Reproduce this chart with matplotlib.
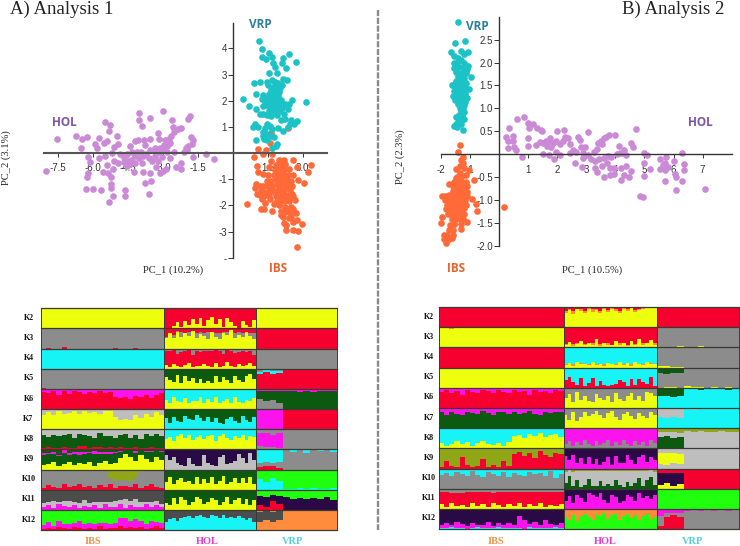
import numpy as np
import matplotlib
matplotlib.use("Agg")
import matplotlib.pyplot as plt
from matplotlib.lines import Line2D

W, H = 740, 546

# ---------- PCA values ----------
HOL_A = [(-7.54,.52),(-8.0,-.69),(-6.73,.66),(-6.47,.52),(-6.26,.6),(-6.49,.18),(-5.9,.34),(-5.8,.2),(-5.73,.59),(-5.49,1.17),
(-5.26,1.07),(-5.29,.83),(-5.51,.39),(-5.37,.46),(-4.94,.66),(-4.9,.33),(-5.09,.24),(-6.2,-.14),(-6.11,-.36),(-6.19,-.75),
(-6.23,-.9),(-6.27,-1.38),(-6.0,-1.38),(-5.66,-1.4),(-5.46,-.11),(-5.19,-.01),(-4.85,-.05),(-5.4,-.45),(-5.1,-.3),(-4.9,-.4),
(-5.55,-.72),(-5.35,-.75),(-5.15,-.62),(-5.2,-.9),(-5.2,-1.2),(-5.2,-1.35),(-5.14,-1.63),(-5.31,-1.88),(-4.62,-1.63),(-4.6,-1.4),
(-4.65,-.35),(-4.5,-.3),(-4.35,-.25),(-4.2,-.12),(-4.55,-.5),(-4.4,-.42),(-4.2,-.4),(-4.25,-.72),(-3.85,-.72),(-3.55,-.78),
(-3.75,-1.15),(-3.5,-1.05),(-3.6,-1.55),(-4.0,-.2),(-3.85,-.1),(-3.7,-.05),(-3.6,-.2),(-3.45,-.3),(-3.3,-.55),(-3.1,-.75),
(-3.0,-.7),(-2.85,-.6),(-3.2,-.3),(-3.05,-.15),(-3.15,.05),(-3.0,.1),(-2.8,.05),(-2.5,.02),(-2.1,.05),(-1.95,.1),
(-2.2,-.4),(-2.2,-.6),(-2.42,-.55),(-1.7,-.15),(-1.15,-.05),(-.8,-.23),(-4.2,.47),(-4.05,.5),(-3.8,.48),(-3.75,.3),
(-3.55,.55),(-3.35,.2),(-3.1,.2),(-2.95,.3),(-2.8,.28),(-2.7,.4),(-2.9,.48),(-2.75,.55),(-2.65,.65),(-3.15,.55),
(-3.2,.75),(-2.5,.8),(-2.35,.9),(-2.2,.95),(-2.55,1.0),(-2.6,1.25),(-1.9,1.3),(-1.85,1.4),(-1.8,.62),(-1.7,.5),
(-1.75,.35),(-1.9,.28),(-2.0,.18),(-4.0,1.52),(-4.0,1.25),(-3.9,1.02),(-3.55,1.32),(-2.98,1.6),(-4.4,.25),(-4.55,-.05),
(-4.65,-.15),(-4.3,.02),(-4.1,.02),(-3.95,.05),(-3.55,.1),(-3.3,.03),(-5.75,-.2),(-3.35,-.1),(-3.9,-.4),(-2.7,-.2)]

VRP_A = [(1.11,4.28),(1.26,3.97),(1.57,3.81),(2.41,3.78),(1.24,3.66),(1.41,3.59),(1.67,3.66),(2.14,3.62),(2.71,3.49),(1.74,3.45),
(2.10,3.43),(1.81,3.30),(2.29,3.24),(1.54,3.04),(1.89,3.04),(2.14,2.84),(2.34,2.78),(1.17,2.73),(.91,2.66),(1.46,2.73),
(1.67,2.80),(1.81,2.73),(1.96,2.66),(2.10,2.60),(1.53,2.60),(1.74,2.54),(1.89,2.51),(2.03,2.48),(1.66,2.40),(1.80,2.38),
(2.00,2.32),(1.00,2.24),(1.30,2.20),(1.55,2.25),(1.75,2.22),(1.95,2.18),(1.27,2.07),(1.47,2.05),(1.62,2.10),(1.85,2.05),
(2.05,2.02),(.44,2.06),(2.52,2.04),(3.14,1.96),(1.40,1.92),(1.60,1.90),(1.80,1.92),(2.00,1.90),(2.25,1.88),(.7,1.78),
(.98,1.70),(1.3,1.8),(1.5,1.78),(1.72,1.8),(1.92,1.74),(2.12,1.72),(2.42,1.86),(2.35,1.70),(1.55,1.6),(1.78,1.62),
(2.0,1.6),(1.3,1.5),(1.15,1.48),(1.45,1.45),(1.62,1.42),(1.9,1.45),(2.2,1.48),(2.5,1.25),(2.75,1.22),(2.22,1.3),
(2.45,1.1),(2.62,1.12),(2.05,1.25),(.95,1.12),(1.1,1.0),(.88,.98),(1.45,1.1),(1.6,1.05),(1.38,.95),(1.3,.82),
(1.45,.72),(1.7,.9),(1.95,.95),(2.15,.85),(2.35,1.0),(.98,.48),(1.33,.55),(1.48,.5),(1.65,.65),(1.75,.6),
(1.3,.65),(1.9,.35),(1.85,.28),(1.68,.2)]

IBS_A = [(1.64,.78),(2.36,.97),(1.6,.37),(1.1,.14),(1.43,.11),(.89,-.14),(1.3,-.05),(1.7,-.04),(1.03,-.48),(1.1,-.72),
(3.34,-.46),(3.21,-.71),(2.6,-.27),(2.74,-.52),(3.06,-1.15),(2.81,-1.03),(.61,-1.95),(2.74,-3.59),(2.27,-2.94),(2.6,-2.94),
(2.81,-2.97),(2.96,-2.73),(2.6,-2.65),(2.2,-2.68),(2.15,-2.45),(2.4,-2.5),(2.75,-2.55),(2.7,-2.3),(2.45,-2.3),(2.25,-2.25),
(2.05,-2.2),(2.0,-2.0),(2.25,-2.05),(2.5,-2.05),(2.6,-2.15),(2.65,-1.8),(2.4,-1.85),(2.2,-1.85),(1.9,-1.85),(1.7,-2.2),
(1.35,-2.15),(1.2,-2.15),(1.4,-1.9),(1.6,-1.75),(1.85,-1.65),(2.1,-1.65),(2.35,-1.6),(1.25,-1.75),(1.05,-1.55),(.95,-1.35),
(.98,-1.18),(1.2,-1.45),(1.4,-1.5),(1.6,-1.45),(1.8,-1.45),(2.0,-1.45),(2.2,-1.4),(2.45,-1.4),(1.3,-1.25),(1.15,-1.25),
(1.5,-1.25),(1.7,-1.25),(1.9,-1.2),(2.1,-1.2),(2.3,-1.2),(2.55,-1.25),(1.45,-1.05),(1.65,-1.05),(1.85,-1.0),(2.05,-1.0),
(2.25,-1.0),(2.5,-1.05),(1.75,-.85),(1.95,-.8),(2.15,-.8),(2.35,-.85),(2.6,-.85),(1.5,-.85),(1.3,-.8),(1.8,-.65),
(2.0,-.62),(2.2,-.62),(2.4,-.62),(1.85,-.45),(2.05,-.42),(2.25,-.42),(2.0,-.25),(2.2,-.28),(1.65,-.3),(1.55,-.55),
(2.1,-1.1),(2.3,-1.3),(2.0,-1.3),(1.85,-1.55),(2.15,-1.55),(2.4,-1.7),(2.25,-1.75),(2.05,-1.75),(2.3,-.95),(2.1,-.9),
(1.95,-1.1),(1.6,-1.4),(2.15,-.7),(2.45,-1.15),(2.55,-1.55),(1.55,-1.6),(1.35,-1.65),(1.15,-1.6),(2.0,-1.95),(2.35,-2.15),
(2.5,-2.45),(2.3,-2.75),(2.05,-2.35),(1.75,-1.95),(1.9,-.75),(2.6,-1.65)]

HOL_B = [(.33,.57),(.63,.78),(.84,.81),(.24,.37),(.47,.4),(.29,.28),(.49,.3),(.31,.14),(.52,.16),(.58,.09),
(.79,-.05),(1.0,.68),(1.18,.66),(1.02,.57),(1.29,.57),(1.43,.53),(1.47,.5),(1.0,.35),(1.0,.18),(1.27,.2),
(1.4,.26),(1.5,.25),(1.6,.28),(1.68,.3),(1.75,.35),(1.85,.25),(1.95,.3),(2.1,.22),(2.18,.3),(2.25,.38),
(2.37,.36),(2.0,.5),(2.23,.52),(2.7,.38),(2.78,.32),(3.05,.49),(1.5,.0),(1.7,-.02),(1.8,.15),(1.65,.18),
(1.95,.05),(2.1,-.02),(1.9,-.1),(2.45,.22),(2.55,.1),(2.45,.02),(2.65,.06),(2.8,.15),(2.95,.15),(2.9,.02),
(3.05,-.02),(3.25,.05),(3.35,.12),(3.5,.28),(3.6,.36),(3.78,.43),(3.68,.38),(4.0,.43),(3.4,.25),(3.55,.22),
(2.6,-.2),(2.85,-.27),(2.9,-.08),(3.15,-.1),(3.3,-.15),(3.45,-.1),(3.6,-.08),(3.75,-.03),(3.85,-.05),(3.3,-.3),
(3.35,-.38),(3.55,-.25),(3.7,-.2),(3.8,-.3),(3.95,-.3),(3.62,-.5),(3.8,-.45),(3.95,-.42),(4.05,.0),(4.15,.02),
(4.25,.02),(4.35,-.02),(4.12,.17),(4.3,.1),(4.55,.25),(4.6,.15),(4.72,.55),(4.2,-.3),(4.35,-.25),(4.55,-.37),
(4.3,-.45),(4.45,-.5),(4.2,-.55),(5.0,.02),(5.1,-.02),(5.0,-.2),(5.0,-.47),(5.2,-.33),(5.55,-.1),(5.65,-.23),
(5.7,-.35),(5.55,-.33),(5.75,-.05),(5.72,-.2),(5.8,-.28),(6.0,-.15),(6.05,-.43),(6.1,-.5),(6.3,-.58),(6.1,-.78),
(6.3,.03),(6.35,-.22),(6.35,-.34),(5.7,-.58),(4.85,-.92),(4.95,-.93),(7.08,-.75)]

VRP_B = [(-1.42,2.88),(-1.53,2.43),(-1.17,2.46),(-1.65,2.22),(-1.08,2.24),(-1.55,2.15),(-1.3,2.25),(-1.2,2.18),(-1.42,2.1),(-1.32,2.05),
(-1.55,2.0),(-1.45,1.98),(-1.2,2.0),(-1.08,1.92),(-1.55,1.88),(-1.38,1.9),(-1.22,1.88),(-1.1,1.85),(-1.48,1.8),(-1.3,1.78),
(-1.15,1.78),(-.97,1.68),(-1.42,1.7),(-1.3,1.68),(-1.2,1.66),(-1.5,1.6),(-1.38,1.6),(-1.25,1.58),(-1.15,1.55),(-1.58,1.52),
(-1.47,1.52),(-1.35,1.5),(-1.22,1.48),(-1.62,1.5),(-1.5,1.42),(-1.38,1.42),(-1.25,1.4),(-1.03,1.42),(-1.12,1.42),(-1.55,1.38),
(-1.42,1.33),(-1.3,1.33),(-1.18,1.32),(-1.58,1.28),(-1.47,1.25),(-1.35,1.25),(-1.22,1.25),(-1.12,1.22),(-1.52,1.18),(-1.4,1.18),
(-1.28,1.18),(-1.18,1.15),(-1.42,1.1),(-1.3,1.1),(-1.2,1.08),(-1.35,1.02),(-1.25,1.0),(-1.32,.95),(-1.22,.92),(-1.38,.85),
(-1.28,.85),(-1.47,.82),(-1.35,.8),(-1.2,.78),(-1.3,.72),(-1.42,.7),(-1.36,.68),(-1.5,.65),(-1.57,.62),(-1.45,.6),
(-1.26,.54),(-1.3,.65)]

IBS_B = [(-1.33,.2),(-1.43,.06),(-1.23,-.05),(-1.03,-.35),(-.87,-.57),(.16,-1.16),(-.77,-1.24),(-.79,-1.08),(-.92,-.97),(-1.82,-1.94),
(-1.97,-1.36),(-1.98,-.92),(-1.11,-1.48),(-1.32,-1.63),(-1.63,-1.83),(-1.3,-.12),(-1.35,-.25),(-1.22,-.3),(-1.5,-.33),(-1.35,-.4),
(-1.45,-.5),(-1.3,-.5),(-1.15,-.45),(-1.55,-.6),(-1.42,-.6),(-1.28,-.6),(-1.15,-.6),(-1.72,-.65),(-1.6,-.7),(-1.48,-.7),
(-1.35,-.7),(-1.22,-.7),(-1.1,-.7),(-1.6,-.8),(-1.47,-.8),(-1.33,-.8),(-1.2,-.8),(-1.1,-.82),(-1.85,-.9),(-1.72,-.88),
(-1.6,-.9),(-1.47,-.9),(-1.35,-.9),(-1.22,-.9),(-1.1,-.92),(-1.85,-1.0),(-1.7,-1.0),(-1.55,-1.0),(-1.42,-1.0),(-1.3,-1.0),
(-1.18,-1.0),(-1.78,-1.1),(-1.62,-1.1),(-1.5,-1.1),(-1.38,-1.1),(-1.25,-1.1),(-1.14,-1.1),(-1.82,-1.2),(-1.65,-1.2),(-1.52,-1.2),
(-1.4,-1.2),(-1.28,-1.2),(-1.75,-1.3),(-1.6,-1.3),(-1.47,-1.3),(-1.35,-1.3),(-1.22,-1.3),(-1.62,-1.42),(-1.48,-1.42),(-1.35,-1.42),
(-1.25,-1.42),(-2.0,-1.5),(-1.68,-1.55),(-1.55,-1.52),(-1.72,-1.65),(-1.58,-1.65),(-1.9,-1.75),(-1.78,-1.75),(-1.6,-1.75),(-1.88,-1.85),
(-1.72,-1.85),(-1.55,-1.52),(-1.25,-.2),(-1.38,-.95),(-1.5,-.52),(-1.25,-.82),(-1.65,-1.12),(-1.42,-1.12),(-1.3,-1.52),(-1.2,-1.18)]

COL_HOL, COL_VRP, COL_IBS = "#CB8AD6", "#1CC3C6", "#FF6A38"
TXT_VRP, TXT_HOL, TXT_IBS = "#2B7F9B", "#7C55A8", "#E9622B"

XT_A = [-7.5, -6.0, -4.5, -3.0, -1.5, 1.5, 3.0]
YT_A = [4, 3, 2, 1, -1, -2, -3, -4]
YL_A = ["4", "3", "2", "1", "-1", "-2", "-3", "-"]
XT_B = [-2, -1, 1, 2, 3, 4, 5, 6, 7]
YT_B = [2.5, 2.0, 1.5, 1.0, 0.5, -0.5, -1.0, -1.5, -2.0]

# ---------- admixture proportions, percent, bottom to top (last layer fills) ----------
A_K2 = [[("y",[100,100,100,96,100,100,100,100,100,100,100,100,100,100,100,98,100,100,100,97,100,100,100,100]),("r",None)],
 [("y",[3,0,14,30,8,36,18,46,24,52,12,40,56,20,46,8,52,30,14,4,36,18,8,44]),("r",None)],
 [("y",[100]),("r",None)]]
A_K3 = [[("r",[0,5,0,0,6,0,0,0,0,0,0,0,0,0,4,0,0,0,3,0,0,0,0,0]),("g",None)],
 [("y",[52,75,55,80,60,78,62,88,52,72,62,50,82,60,50,78,66,90,54,70,58,84,62,48]),("g",[8,0,12,5,20,0,18,0,25,8,15,30,0,18,25,5,15,0,22,10,20,0,15,30]),("r",None)],
 [("r",[100,100,96,100,100,100,95,100,100,100,100,100]),("g",None)]]
A_K4 = [[("c",[100,100,100,96,100,100,100,100,100,100,100,100,100,100,100,100,100,98,100,96,100,100,100,100]),("k",None)],
 [("y",[18,8,24,12,10,20,30,10,16,12,26,14,10,28,10,12,32,16,10,22,12,18,30,12]),("r",[68,78,70,60,72,66,64,58,70,72,62,72,76,66,78,62,62,70,68,60,76,66,60,58]),("g",None)],
 [("g",[100,100,100,96,100,100,100,100,96,100,100,100]),("c",None)]]
A_K5 = [[("r",[4,0,0,0,0,0,0,0,0,0,0,0,0,0,0,0,0,0,0,0,0,0,0,0]),("g",None)],
 [("y",[58,42,35,70,30,62,40,55,28,48,30,40,28,62,32,58,44,30,66,45,36,64,72,50]),("d",None)],
 [("r",[72,82,72,78,100,100,100,100,100,100,100,100]),("c",[14,10,18,12,0,0,0,0,0,0,0,0]),("g",None)]]
A_K6 = [[("r",[85,80,92,72,88,76,90,84,74,86,80,92,78,86,62,55,58,50,66,60,72,55,68,80]),("m",None)],
 [("y",[45,30,62,40,35,55,28,42,38,60,30,48,34,58,28,40,50,32,62,36,28,45,38,55]),("c",None)],
 [("g",[50,40,45,30,0,0,0,0,0,0,0,0]),("d",[42,50,45,60,88,90,86,90,85,90,88,92]),("m",None)]]
A_K7 = [[("y",[70,85,72,90,78,82,88,75,90,80,85,78,88,90,60,48,52,45,70,55,75,60,85,72]),("s",None)],
 [("c",[55,30,60,42,35,65,50,45,70,55,40,62,35,58,30,25,50,62,40,30,65,45,35,60]),("d",None)],
 [("m",[98,100,100,95,0,0,0,0,0,0,0,0]),("r",None)]]
A_K8 = [[("r",[8,12,5,6,14,8,5,15,18,6,10,12,6,14,8,10,5,6,12,5,8,12,6,8]),("d",[62,48,65,58,55,66,50,60,55,62,45,68,60,54,48,62,70,52,60,45,66,52,70,56]),("s",None)],
 [("y",[50,62,40,68,75,55,70,45,60,72,50,65,70,42,64,75,58,48,68,55,72,45,66,60]),("c",None)],
 [("g",[15,10,12,5,100,100,100,100,100,100,100,100]),("m",[65,72,60,75,0,0,0,0,0,0,0,0]),("g",None)]]
A_K9 = [[("y",[22,28,35,18,26,38,22,30,25,35,20,30,42,25,30,55,75,60,42,70,50,38,60,45]),("d",[52,48,40,50,55,36,55,42,50,45,58,45,35,52,52,30,15,25,42,20,35,50,30,42]),("m",[10,8,12,6,14,6,10,16,10,8,12,14,10,8,6,5,0,4,6,0,5,4,0,4]),("d",None)],
 [("s",[70,45,60,30,22,20,55,25,20,20,70,30,22,18,60,72,25,30,40,75,55,30,80,45]),("p",None)],
 [("r",[12,18,20,8,0,0,0,0,0,0,0,0]),("g",[22,20,12,28,100,85,100,80,100,90,100,85]),("c",None)]]
A_K10 = [[("r",[10,22,15,8,26,12,18,30,12,20,10,24,14,28,10,20,16,12,26,10,18,28,14,10]),("g",[86,74,80,88,70,84,78,66,84,76,86,72,82,30,32,28,34,30,30,80,78,68,82,88]),("o",None)],
 [("y",[38,62,30,48,58,36,42,30,62,28,52,34,62,28,45,66,30,40,60,34,58,32,62,30]),("d",[56,34,64,48,38,58,52,64,34,66,42,60,32,66,50,30,64,54,36,60,38,62,34,64]),("o",None)],
 [("c",[55,40,60,45,5,3,6,4,10,5,4,6]),("b",None)]]
A_K11 = [[("m",[12,22,10,30,18,12,26,8,18,12,24,10,28,15,12,28,10,22,16,12,30,14,24,12]),("s",[20,18,35,10,24,30,14,26,30,22,14,28,12,26,30,20,44,22,38,26,10,26,20,18]),("k",None)],
 [("y",[35,22,58,30,62,48,25,40,65,55,28,40,60,50,22,40,62,30,50,58,30,55,25,48]),("d",[60,72,35,66,30,46,70,56,32,38,66,56,36,46,72,52,32,62,46,38,64,40,70,46]),("m",None)],
 [("r",[22,15,45,28,0,0,0,0,0,0,0,0]),("p",[48,50,30,42,62,55,58,52,60,55,62,50]),("b",None)]]
A_K12 = [[("r",[6,12,5,14,8,5,16,8,4,12,6,18,5,12,8,20,8,14,8,16,6,12,22,8]),("m",[20,28,16,30,22,25,18,35,28,22,26,15,32,18,28,38,52,30,45,28,24,34,20,26]),("b",None)],
 [("c",[40,55,62,45,58,66,70,60,68,72,66,62,72,68,60,72,62,66,58,70,60,50,62,42]),("k",None)],
 [("n",[42,50,38,48,100,96,100,94,100,96,98,100]),("k",[48,42,50,44,0,0,0,0,0,0,0,0]),("n",None)]]

B_K2 = [[("r",[100]),("y",None)],
 [("y",[72,84,66,88,78,70,92,76,86,68,88,74,90,80,70,90,78,95,74,86,90,96,100,100]),("n",[10,6,12,4,10,12,4,12,6,12,6,10,4,10,12,4,10,5,12,6,4,2,0,0]),("r",None)],
 [("r",[100]),("y",None)]]
B_K3 = [[("y",[100,98,90,100,100,100,100,100,100,100,100,100,100,98,100,100,100,100,100,100,96,100,100,100]),("n",None)],
 [("y",[12,28,8,18,30,10,20,12,40,8,24,14,10,34,12,20,8,30,14,44,12,22,38,14]),("n",[6,0,8,4,0,6,0,10,0,8,0,6,4,0,8,0,6,0,4,0,8,0,0,6]),("r",None)],
 [("y",[0,0,0,6,4,3,5,4,3,0,2,0]),("g",None)]]
B_K4 = [[("r",[100,100,100,100,100,100,96,100,100,100,100,100,100,100,96,100,100,100,100,100,100,100,100,100]),("g",None)],
 [("y",[12,22,10,28,16,20,12,26,14,18,10,24,20,12,30,14,22,10,26,18,12,28,20,16]),("n",[6,0,8,0,6,0,5,0,6,0,8,0,0,6,0,5,0,6,0,0,6,0,4,0]),("c",None)],
 [("y",[6,8,4,5,0,0,0,0,0,0,0,0]),("g",None)]]
B_K5 = [[("y",[100,100,97,100,96,100,100,100,100,100,100,96,100,100,100,98,100,100,100,100,100,100,100,100]),("k",None)],
 [("r",[40,52,30,12,48,8,22,50,10,32,15,8,12,20,38,28,10,42,14,46,28,18,52,10]),("c",None)],
 [("y",[0,2,3,0,8,2,6,0,2,0,2,0]),("g",[72,68,70,72,92,98,94,100,96,100,98,100]),("d",None)]]
B_K6 = [[("r",[78,90,72,85,66,88,80,72,90,85,76,88,80,72,90,78,84,66,88,78,86,74,90,82]),("m",None)],
 [("y",[50,68,32,78,42,60,36,30,70,48,40,62,32,72,45,36,58,74,40,60,34,80,72,60]),("g",None)],
 [("c",[58,62,55,60,92,95,90,94,92,95,90,94]),("d",None)]]
B_K7 = [[("d",[78,68,82,72,66,80,76,70,84,74,68,78,82,72,80,70,76,84,72,68,78,74,82,80]),("m",None)],
 [("y",[66,42,78,34,55,80,60,72,85,66,50,75,86,58,42,70,82,62,48,74,60,52,78,66]),("g",None)],
 [("c",[55,50,58,52,100,92,100,100,100,100,100,100]),("s",None)]]
B_K8 = [[("y",[28,12,24,38,22,30,14,28,35,20,16,26,14,30,60,68,52,70,62,75,55,66,70,58]),("c",None)],
 [("g",[20,38,12,30,16,42,22,10,35,15,28,40,14,32,18,44,20,12,38,16,30,12,42,25]),("m",None)],
 [("d",[55,60,50,58,0,0,0,0,0,0,0,0]),("s",[25,22,30,20,85,82,84,80,82,85,80,82]),("o",None)]]
B_K9 = [[("r",[8,40,14,10,60,18,6,12,50,8,18,10,40,14,75,82,62,78,55,85,70,60,80,72]),("o",None)],
 [("m",[62,42,70,30,55,22,60,25,48,20,35,60,20,65,28,30,70,42,25,58,70,35,60,45]),("p",None)],
 [("s",[25,20,28,22,100,100,100,100,100,100,100,100]),("y",[55,60,50,52,0,0,0,0,0,0,0,0]),("s",None)]]
B_K10 = [[("g",[68,80,62,85,72,66,88,70,60,82,74,66,86,58,78,70,62,84,72,80,64,88,56,72]),("c",None)],
 [("d",[30,62,14,42,10,18,48,12,12,40,14,22,12,46,18,10,32,12,28,55,14,42,60,20]),("s",[56,30,72,45,78,70,40,76,76,48,74,66,76,42,70,78,55,76,60,34,74,46,32,66]),("o",None)],
 [("y",[20,30,15,22,0,0,0,0,0,0,0,0]),("p",[60,50,62,55,0,0,0,0,0,0,0,0]),("r",None)]]
B_K11 = [[("y",[25,12,30,16,22,12,28,15,24,12,30,18,12,26,16,30,12,24,14,28,12,22,16,26]),("r",[58,72,52,66,60,72,56,70,60,74,52,68,72,58,68,54,74,60,70,56,72,62,68,58]),("g",None)],
 [("m",[40,65,30,72,55,35,80,70,60,78,45,32,70,58,32,42,72,60,38,78,55,66,48,70]),("p",None)],
 [("b",[100])]]
B_K12 = [[("c",[8,4,10,5,8,3,6,12,4,7,5,10,6,4,8,5,3,10,5,8,4,6,10,4]),("m",[15,28,10,32,18,12,26,8,18,30,10,22,14,26,12,60,45,18,30,14,40,20,12,28]),("p",None)],
 [("b",[62,48,72,40,68,78,60,45,74,66,80,52,70,76,46,64,78,58,72,45,68,75,50,62]),("n",None)],
 [("r",[15,60,70,62,0,0,0,0,0,0,0,0]),("g",[50,22,10,20,92,94,90,94,92,95,92,94]),("m",None)]]

ROWS_A = [A_K2, A_K3, A_K4, A_K5, A_K6, A_K7, A_K8, A_K9, A_K10, A_K11, A_K12]
ROWS_B = [B_K2, B_K3, B_K4, B_K5, B_K6, B_K7, B_K8, B_K9, B_K10, B_K11, B_K12]
ROW_LABELS = ["K2","K3","K4","K5","K6","K7","K8","K9","K10","K11","K12"]
SIZES_A = [123, 92, 81]
SIZES_B = [125, 93, 82]
PALETTE = {"y":"#EEFF0E","r":"#F5002F","g":"#8C8C8C","c":"#16F4F6","d":"#0C5A10","m":"#FB12EC",
           "s":"#BEBEBE","o":"#8FA617","p":"#2A0A44","b":"#20FF0E","k":"#4C4C4C","n":"#FF8B3C"}

# ---------- figure ----------
plt.rcParams["font.family"] = ["Liberation Sans", "DejaVu Sans"]
fig = plt.figure(figsize=(W/100, H/100), dpi=100)

def axes_px(x0, x1, y0, y1):
    return fig.add_axes([x0/W, 1-y1/H, (x1-x0)/W, (y1-y0)/H])

def px_text(x, y, s, **kw):
    fig.text(x/W, 1-y/H, s, ha=kw.pop("ha","center"), va=kw.pop("va","center"), **kw)

def pca(box, xlim, ylim, groups, xt, yt, yl, hcol, hlw, ms):
    ax = axes_px(*box)
    ax.set_xlim(*xlim); ax.set_ylim(*ylim)
    ax.patch.set_alpha(0)
    for pts, col in groups:
        a = np.array(pts)
        ax.scatter(a[:,0], a[:,1], s=ms, color=col, linewidths=0, clip_on=False, zorder=2)
    for s in ("top","right"):
        ax.spines[s].set_visible(False)
    ax.spines["left"].set_position(("data",0)); ax.spines["left"].set_color("#333333"); ax.spines["left"].set_linewidth(1.0)
    ax.spines["bottom"].set_position(("data",0)); ax.spines["bottom"].set_color(hcol); ax.spines["bottom"].set_linewidth(hlw)
    ax.set_xticks(xt); ax.set_xticklabels([str(v) for v in xt])
    ax.set_yticks(yt); ax.set_yticklabels(yl)
    ax.tick_params(axis="x", length=3, width=.7, labelsize=7, pad=4.5, color="#333333", labelcolor="#333333")
    ax.tick_params(axis="y", length=3.5, width=.7, labelsize=7, pad=.8, color="#333333", labelcolor="#333333")
    return ax

pca((44,327,22.7,257.7), (-8.09,4.04), (-4.0,4.98), [(HOL_A,COL_HOL),(IBS_A,COL_IBS),(VRP_A,COL_VRP)],
    XT_A, YT_A, YL_A, "#555555", 1.5, 23)
pca((441,731.7,16.7,246), (-2.0,8.0), (-2.0,3.0), [(HOL_B,COL_HOL),(IBS_B,COL_IBS),(VRP_B,COL_VRP)],
    XT_B, YT_B, [f"{v:.1f}" for v in YT_B], "#333333", 1.0, 23)

def structure(box, rows, sizes):
    ax = axes_px(*box)
    total = sum(sizes)
    n = len(rows)
    ax.set_xlim(0, total); ax.set_ylim(n, 0)
    ax.axis("off")
    starts = np.cumsum([0]+sizes)
    for i, row in enumerate(rows):
        for j, block in enumerate(row):
            length = max((len(v) for _, v in block if v is not None), default=1)
            w = sizes[j]/length
            xs = starts[j] + w*np.arange(length)
            base = np.zeros(length)
            for key, vals in block:
                if vals is None:
                    h = 100-base
                else:
                    v = np.array(vals, float)
                    h = np.full(length, v[0]) if len(v)==1 else v
                h = np.clip(h, 0, 100-base)
                ax.bar(xs, h/100, w*1.02, bottom=i+1-(base+h)/100, align="edge", color=PALETTE[key], linewidth=0)
                base = base+h
    for y in range(n+1):
        ax.axhline(y, color="#3A3A30", lw=.9, zorder=5, clip_on=False)
    for s in starts:
        ax.plot([s,s],[0,n], color="#3A3A3A", lw=.7, zorder=5, clip_on=False)
    return ax

structure((41,337,308.3,530), ROWS_A, SIZES_A)
structure((438.7,738.5,307,529.3), ROWS_B, SIZES_B)

# K labels
for i, lab in enumerate(ROW_LABELS):
    px_text(28.5, 318+20.15*i, lab, fontsize=5.8, fontweight="bold", family="Liberation Serif", color="#111111")
    px_text(429, 317+20.1*i, lab, fontsize=5.8, fontweight="bold", family="Liberation Serif", color="#111111")

# population labels
for x, s, c in [(93,"IBS","#F0924A"),(207,"HOL","#E23BD6"),(293,"VRP","#4FD2E6"),
                (496,"IBS","#F0924A"),(605,"HOL","#E23BD6"),(693,"VRP","#4FD2E6")]:
    px_text(x, 541, s, fontsize=7.5, fontweight="bold", family="Liberation Serif", color=c)

# titles
px_text(10, 9, "A) Analysis 1", fontsize=13.5, family="Liberation Serif", ha="left", color="#222222")
px_text(724, 9, "B) Analysis 2", fontsize=13.5, family="Liberation Serif", ha="right", color="#222222")

# axis titles
px_text(173, 270, "PC_1 (10.2%)", fontsize=7.6, family="Liberation Serif", color="#222222")
px_text(592, 270, "PC_1 (10.5%)", fontsize=7.6, family="Liberation Serif", color="#222222")
px_text(6, 158, "PC_2 (3.1%)", fontsize=7.6, family="Liberation Serif", rotation=90, color="#222222")
px_text(400, 157, "PC_2 (2.3%)", fontsize=7.6, family="Liberation Serif", rotation=90, color="#222222")

# group labels
for x, y, s, c in [(64,122,"HOL",TXT_HOL),(260,25,"VRP",TXT_VRP),(278,268,"IBS",TXT_IBS),
                   (477,27,"VRP",TXT_VRP),(700,122,"HOL",TXT_HOL),(456,268,"IBS",TXT_IBS)]:
    px_text(x, y, s, fontsize=8.5, fontweight="bold", family="Open Sans", color=c)

# dashed divider
fig.add_artist(Line2D([378/W,378/W],[1-10/H,1-530/H], color="#8A8A8A", lw=1.7, ls=(0,(2.6,0.7))))

fig.savefig("out.png", dpi=100)
